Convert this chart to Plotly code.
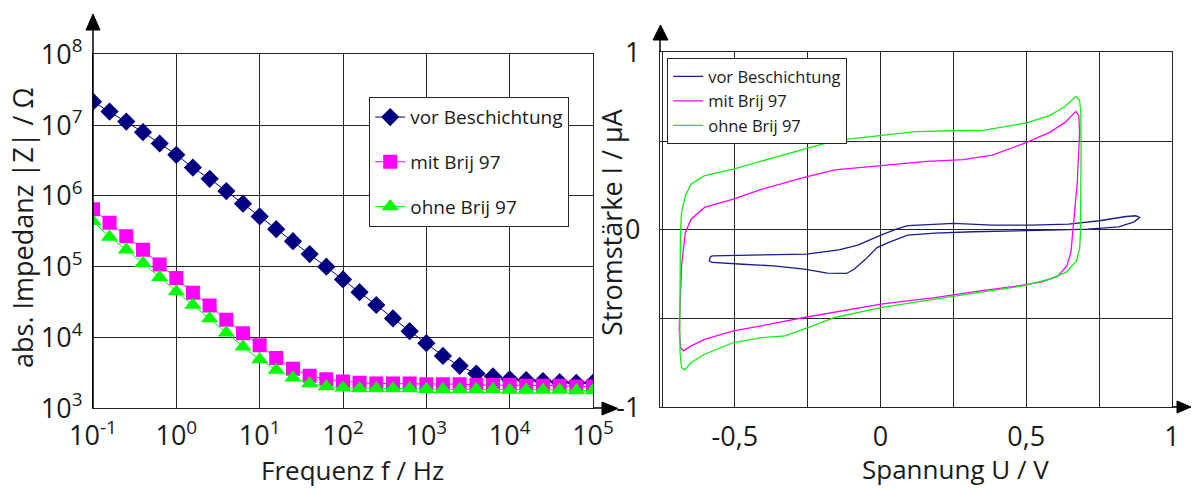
import plotly.graph_objects as go

W, H = 1192, 488

# ---------------- Data: impedance spectrum (left) ----------------
freq_hz = [0.1, 0.158, 0.251, 0.398, 0.631, 1, 1.58, 2.51, 3.98, 6.31,
           10, 15.8, 25.1, 39.8, 63.1, 100, 158, 251, 398, 631,
           1000, 1580, 2510, 3980, 6310, 10000, 15800, 25100, 39800, 63100, 100000]

z_vor = [2.14e7, 1.55e7, 1.12e7, 7.94e6, 5.50e6, 3.80e6, 2.51e6, 1.74e6, 1.17e6, 7.76e5,
         5.13e5, 3.39e5, 2.29e5, 1.51e5, 1.00e5, 6.61e4, 4.37e4, 2.88e4, 1.86e4, 1.23e4,
         8.32e3, 5.50e3, 3.98e3, 3.09e3, 2.82e3, 2.57e3, 2.51e3, 2.43e3, 2.34e3, 2.29e3, 2.29e3]

z_mit = [6.46e5, 4.17e5, 2.69e5, 1.74e5, 1.07e5, 6.92e4, 4.27e4, 2.82e4, 1.78e4, 1.15e4,
         7.76e3, 5.13e3, 3.63e3, 2.88e3, 2.57e3, 2.40e3, 2.29e3, 2.24e3, 2.24e3, 2.24e3,
         2.19e3, 2.19e3, 2.19e3, 2.14e3, 2.14e3, 2.14e3, 2.09e3, 2.09e3, 2.09e3, 2.04e3, 2.04e3]

z_ohne = [4.37e5, 2.63e5, 1.74e5, 1.12e5, 7.08e4, 4.47e4, 2.88e4, 1.86e4, 1.17e4, 7.41e3,
          4.90e3, 3.47e3, 2.69e3, 2.24e3, 2.04e3, 1.95e3, 1.91e3, 1.91e3, 1.91e3, 1.91e3,
          1.86e3, 1.86e3, 1.86e3, 1.86e3, 1.86e3, 1.82e3, 1.82e3, 1.82e3, 1.82e3, 1.78e3, 1.78e3]

x_tickvals_left = [0.1, 1, 10, 100, 1000, 10000, 100000]
x_ticktext_left = ["10<sup>-1</sup>", "10<sup>0</sup>", "10<sup>1</sup>", "10<sup>2</sup>",
                   "10<sup>3</sup>", "10<sup>4</sup>", "10<sup>5</sup>"]
y_tickvals_left = [1e3, 1e4, 1e5, 1e6, 1e7, 1e8]
y_ticktext_left = ["10<sup>3</sup>", "10<sup>4</sup>", "10<sup>5</sup>",
                   "10<sup>6</sup>", "10<sup>7</sup>", "10<sup>8</sup>"]

# ---------------- Data: cyclic voltammograms (right) ----------------
u_vor = [-0.578, -0.472, -0.341, -0.254, -0.143, -0.078, 0.001, 0.054, 0.093, 0.186,
         0.251, 0.383, 0.514, 0.646, 0.751, 0.843, 0.876, 0.889, 0.870, 0.817,
         0.712, 0.580, 0.449, 0.317, 0.186, 0.093, 0.028, -0.012, -0.051, -0.091,
         -0.117, -0.183, -0.262, -0.367, -0.472, -0.578, -0.588, -0.585, -0.578]
i_vor = [-0.147, -0.143, -0.141, -0.137, -0.113, -0.086, -0.030, 0.004, 0.023, 0.032,
         0.036, 0.026, 0.026, 0.032, 0.051, 0.075, 0.079, 0.070, 0.045, 0.017,
         0.004, -0.002, -0.006, -0.011, -0.019, -0.030, -0.071, -0.100, -0.165, -0.222,
         -0.246, -0.244, -0.222, -0.203, -0.194, -0.184, -0.175, -0.155, -0.147]

u_mit = [-0.691, -0.688, -0.683, -0.670, -0.650, -0.604, -0.505, -0.407, -0.262, -0.157,
         0.001, 0.159, 0.284, 0.383, 0.501, 0.580, 0.633, 0.670, 0.680, 0.683,
         0.675, 0.662, 0.653, 0.639, 0.607, 0.554, 0.488, 0.317, 0.186, 0.001,
         -0.157, -0.262, -0.380, -0.505, -0.604, -0.650, -0.676, -0.686, -0.691]
i_mit = [-0.560, -0.400, -0.203, -0.015, 0.060, 0.126, 0.173, 0.229, 0.295, 0.338,
         0.361, 0.385, 0.395, 0.421, 0.492, 0.549, 0.605, 0.667, 0.643, 0.549,
         0.267, 0.023, -0.128, -0.203, -0.263, -0.293, -0.312, -0.350, -0.382, -0.419,
         -0.462, -0.494, -0.532, -0.570, -0.617, -0.654, -0.682, -0.664, -0.560]

u_ohne = [-0.689, -0.689, -0.688, -0.687, -0.683, -0.670, -0.650, -0.604, -0.505, -0.407,
          -0.262, -0.157, 0.001, 0.120, 0.251, 0.357, 0.501, 0.580, 0.633, 0.670,
          0.683, 0.687, 0.688, 0.688, 0.686, 0.683, 0.672, 0.639, 0.580, 0.488,
          0.317, 0.186, 0.001, -0.157, -0.249, -0.328, -0.407, -0.505, -0.604, -0.650,
          -0.672, -0.683, -0.688, -0.689]
i_ohne = [-0.579, -0.391, -0.203, -0.015, 0.098, 0.192, 0.258, 0.305, 0.342, 0.389,
          0.455, 0.502, 0.530, 0.553, 0.558, 0.562, 0.602, 0.643, 0.695, 0.752,
          0.727, 0.662, 0.455, 0.173, -0.015, -0.109, -0.175, -0.237, -0.278, -0.316,
          -0.357, -0.391, -0.438, -0.494, -0.551, -0.598, -0.607, -0.635, -0.701, -0.748,
          -0.789, -0.776, -0.692, -0.579]

x_tickvals_right = [-0.75, -0.5, -0.25, 0, 0.25, 0.5, 0.75, 1]
x_ticktext_right = ["", "-0,5", "", "0", "", "0,5", "", "1"]
y_tickvals_right = [-1, -0.5, 0, 0.5, 1]
y_ticktext_right = ["-1", "", "0", "", "1"]

names = ["vor Beschichtung", "mit Brij 97", "ohne Brij 97"]
c_navy = "#000080"
c_mag = "#ff00ff"
c_grn = "#00ff00"

FONT = "Open Sans"
TXT = "#1a1a1a"
GRID = "#262626"

fig = go.Figure()

# Left traces
fig.add_trace(go.Scatter(x=freq_hz, y=z_vor, name=names[0], mode="lines+markers",
                         line=dict(color=c_navy, width=1),
                         marker=dict(symbol="diamond", size=14, color=c_navy),
                         xaxis="x", yaxis="y", legend="legend", legendgroup="a"))
fig.add_trace(go.Scatter(x=freq_hz, y=z_mit, name=names[1], mode="lines+markers",
                         line=dict(color=c_mag, width=1),
                         marker=dict(symbol="square", size=14, color=c_mag),
                         xaxis="x", yaxis="y", legend="legend", legendgroup="b"))
fig.add_trace(go.Scatter(x=freq_hz, y=z_ohne, name=names[2], mode="lines+markers",
                         line=dict(color=c_grn, width=1),
                         marker=dict(symbol="triangle-up", size=15, color=c_grn),
                         xaxis="x", yaxis="y", legend="legend", legendgroup="c"))

# Right traces
fig.add_trace(go.Scatter(x=u_vor, y=i_vor, name=names[0], mode="lines",
                         line=dict(color="#1c1c8c", width=1.3),
                         xaxis="x2", yaxis="y2", legend="legend2"))
fig.add_trace(go.Scatter(x=u_mit, y=i_mit, name=names[1], mode="lines",
                         line=dict(color=c_mag, width=1.3),
                         xaxis="x2", yaxis="y2", legend="legend2"))
fig.add_trace(go.Scatter(x=u_ohne, y=i_ohne, name=names[2], mode="lines",
                         line=dict(color="#11ee11", width=1.3),
                         xaxis="x2", yaxis="y2", legend="legend2"))

def px(x):
    return x / W

def py(y):
    return 1 - y / H

axis_common = dict(showgrid=True, gridcolor=GRID, gridwidth=1.3, showline=True,
                   linecolor=GRID, linewidth=1.3, mirror=True, zeroline=False,
                   automargin=False,
                   ticks="", tickfont=dict(family=FONT, size=27, color=TXT))

fig.update_layout(
    width=W, height=H, autosize=False,
    margin=dict(l=0, r=0, t=0, b=0, pad=0, autoexpand=False),
    paper_bgcolor="white", plot_bgcolor="white",
    font=dict(family=FONT, color=TXT),
    xaxis=dict(type="log", range=[-1, 5], domain=[px(93), px(593)],
               tickvals=x_tickvals_left, ticktext=x_ticktext_left, anchor="y",
               ticklabelstandoff=3, **axis_common),
    yaxis=dict(type="log", range=[3, 8], domain=[py(408.3), py(54.3)],
               tickvals=y_tickvals_left, ticktext=y_ticktext_left, anchor="x",
               ticklabelstandoff=4, **axis_common),
    xaxis2=dict(range=[-0.757, 1], domain=[px(660), px(1172)],
                tickvals=x_tickvals_right, ticktext=x_ticktext_right, anchor="y2",
                ticklabelstandoff=5, **axis_common),
    yaxis2=dict(range=[-1, 1], domain=[py(407.3), py(52.3)],
                tickvals=y_tickvals_right, ticktext=y_ticktext_right, anchor="x2",
                ticklabelstandoff=13, **axis_common),
    legend=dict(x=px(369), y=py(97), xanchor="left", yanchor="top",
                bgcolor="white", bordercolor=GRID, borderwidth=1.2,
                font=dict(family=FONT, size=19, color=TXT),
                tracegroupgap=17, itemwidth=30),
    legend2=dict(x=px(667), y=py(58), xanchor="left", yanchor="top",
                 bgcolor="white", bordercolor=GRID, borderwidth=1.2,
                 font=dict(family=FONT, size=16.5, color=TXT),
                 tracegroupgap=0, itemwidth=30),
    showlegend=True,
)

# Axis titles
ann_font = dict(family=FONT, size=26, color=TXT)
fig.add_annotation(text="Frequenz f / Hz", x=px(352), y=py(470), xref="paper", yref="paper",
                   showarrow=False, font=ann_font, xanchor="center", yanchor="middle")
fig.add_annotation(text="Spannung U / V", x=px(955), y=py(469), xref="paper", yref="paper",
                   showarrow=False, font=ann_font, xanchor="center", yanchor="middle")
fig.add_annotation(text="abs. Impedanz |Z| / Ω", x=px(23), y=py(228), xref="paper", yref="paper",
                   showarrow=False, font=dict(family=FONT, size=27, color=TXT),
                   textangle=-90, xanchor="center", yanchor="middle")
fig.add_annotation(text="Stromstärke I / µA", x=px(611), y=py(222), xref="paper", yref="paper",
                   showarrow=False, font=dict(family=FONT, size=27, color=TXT),
                   textangle=-90, xanchor="center", yanchor="middle")

# Axis arrows (decorations)
def line_shape(x0, y0, x1, y1):
    return dict(type="line", xref="paper", yref="paper", x0=px(x0), y0=py(y0),
                x1=px(x1), y1=py(y1), line=dict(color="black", width=1.5))

def tri(points):
    d = "M " + " L ".join(f"{px(a)},{py(b)}" for a, b in points) + " Z"
    return dict(type="path", xref="paper", yref="paper", path=d,
                fillcolor="black", line=dict(color="black", width=1))

shapes = [
    line_shape(93, 408, 93, 28), tri([(86, 30), (100, 30), (93, 14)]),
    line_shape(593, 408, 604, 408), tri([(602, 402), (602, 415), (618, 408.5)]),
    line_shape(660, 52, 660, 38), tri([(653, 40), (668, 40), (660.5, 25)]),
    line_shape(1172, 407, 1180, 407), tri([(1177, 401), (1177, 413), (1191, 407)]),
]
fig.update_layout(shapes=shapes)

fig.write_html("out.html",
               config={"displayModeBar": False},
               post_script="document.body.style.margin='0px';document.body.style.overflow='hidden';")
